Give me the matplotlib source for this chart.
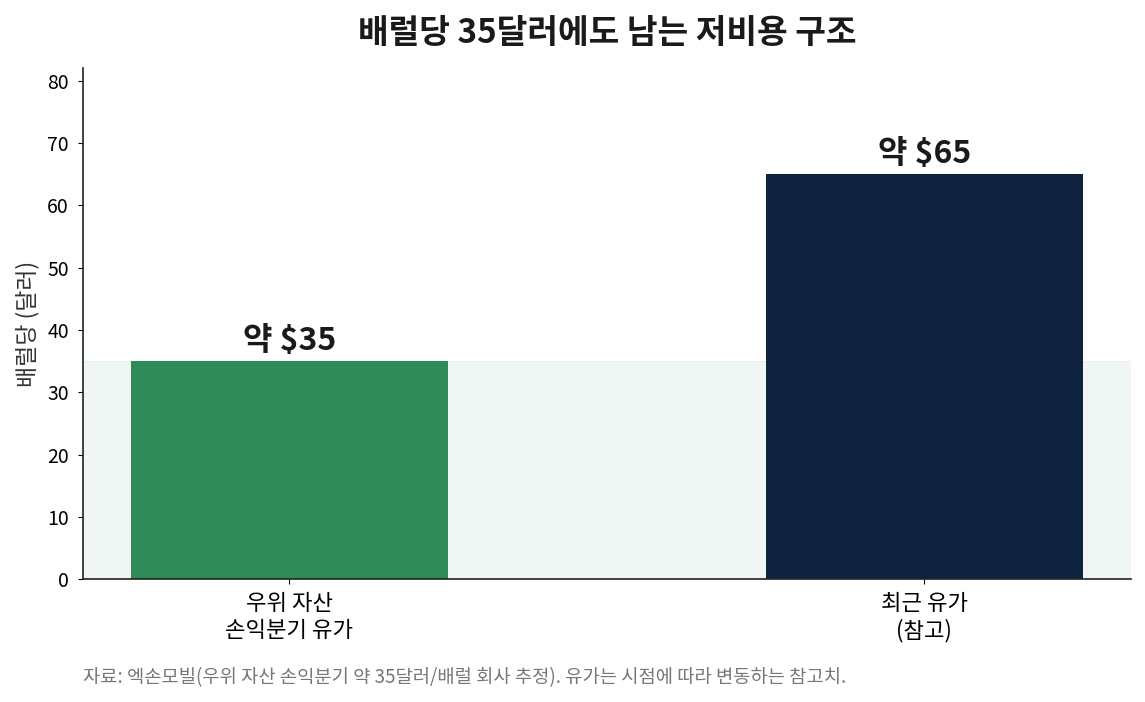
import matplotlib
matplotlib.use("Agg")
import matplotlib.pyplot as plt

plt.rcParams['font.family'] = ['Noto Sans CJK KR', 'DejaVu Sans']

categories = ['우위 자산\n손익분기 유가', '최근 유가\n(참고)']
values = [35, 65]
labels = ['약 $35', '약 $65']
colors = ['#2e8b57', '#0f2340']
breakeven = 35

fig = plt.figure(figsize=(11.45, 7.02), dpi=100)
ax = fig.add_axes([0.0725, 0.175, 0.915, 0.728])

ax.axhspan(0, breakeven, facecolor='#2e8b57', alpha=0.07, edgecolor='#2e8b57', linewidth=0.8, zorder=0)
x = range(len(values))
bars = ax.bar(x, values, width=0.5, color=colors, zorder=2)
for b, lab in zip(bars, labels):
    ax.text(b.get_x() + b.get_width() / 2, b.get_height() + 0.6, lab,
            ha='center', va='bottom', fontsize=23, fontweight='bold', color='#1a1a1a')

ax.set_xticks(list(x))
ax.set_xticklabels(categories, fontsize=16)
ax.tick_params(axis='x', pad=6)
ax.set_xlim(-0.325, 1.325)
ax.set_ylim(0, 82)
ax.set_yticks(range(0, 90, 10))
ax.tick_params(axis='y', labelsize=14, pad=6.5)
ax.set_ylabel('배럴당 (달러)', fontsize=16.5, color='#333333', labelpad=6)
ax.spines['top'].set_visible(False)
ax.spines['right'].set_visible(False)
for s in ['left', 'bottom']:
    ax.spines[s].set_linewidth(1.2)
    ax.spines[s].set_color('#222222')

ax.set_title('배럴당 35달러에도 남는 저비용 구조', fontsize=24, fontweight='bold', pad=18, color='#1a1a1a')
fig.text(0.0725, 0.027, '자료: 엑손모빌(우위 자산 손익분기 약 35달러/배럴 회사 추정). 유가는 시점에 따라 변동하는 참고치.',
         fontsize=13.5, color='#777777', ha='left')

fig.savefig('out.png', dpi=100)
